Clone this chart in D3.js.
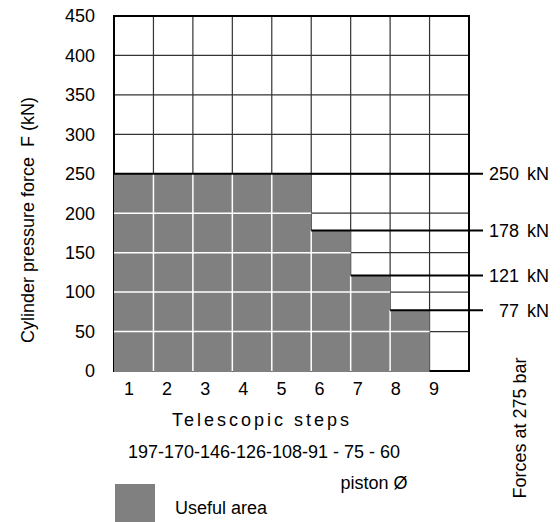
<!DOCTYPE html>
<html><head><meta charset="utf-8">
<script src="https://cdn.jsdelivr.net/npm/d3@7"></script>
<style>
html,body{margin:0;padding:0;background:#fff;}
text{font-family:"Liberation Sans",Arial,sans-serif;font-size:18px;fill:#000;white-space:pre;}
</style></head>
<body>
<script>
// ---- data ----
const steps = [1, 2, 3, 4, 5, 6, 7, 8, 9];
const usefulForce = [250, 250, 250, 250, 250, 178, 121, 77, 0]; // kN, useful area per step
const forceLevels = [250, 178, 121, 77];       // kN labels on the right
const forceFromStep = [1, 6, 7, 8];            // step where each force line starts
const yTicks = [0, 50, 100, 150, 200, 250, 300, 350, 400, 450];
const pistonDiameters = "197-170-146-126-108-91 - 75 - 60";

const W = 560, H = 522;
const svg = d3.select("body").append("svg").attr("width", W).attr("height", H);

const x = d3.scaleBand().domain(steps).range([114, 469]).padding(0);
const y = d3.scaleLinear().domain([0, 450]).range([371, 16]);
const labelX = d3.scaleLinear().domain([1, 9]).range([129, 434]);
const bw = x.bandwidth();

// background grid (dark lines)
const grid = svg.append("g");
grid.selectAll("line.v").data(steps.slice(1)).enter().append("line")
  .attr("x1", d => x(d)).attr("x2", d => x(d))
  .attr("y1", y(450)).attr("y2", y(0))
  .attr("stroke", "#333").attr("stroke-width", 1.2);
grid.selectAll("line.h").data(yTicks.slice(1, -1)).enter().append("line")
  .attr("x1", x(1)).attr("x2", x(9) + bw)
  .attr("y1", d => y(d)).attr("y2", d => y(d))
  .attr("stroke", "#333").attr("stroke-width", 1.2);
// border
svg.append("rect").attr("x", x(1)).attr("y", y(450))
  .attr("width", x(9) + bw - x(1)).attr("height", y(0) - y(450))
  .attr("fill", "none").attr("stroke", "#000").attr("stroke-width", 2);

// useful area bars
const bars = steps.map((s, i) => ({ step: s, f: usefulForce[i] })).filter(d => d.f > 0);
svg.append("g").selectAll("rect").data(bars).enter().append("rect")
  .attr("x", d => x(d.step)).attr("width", bw)
  .attr("y", d => y(d.f)).attr("height", d => y(0) - y(d.f) + 1)
  .attr("fill", "#808080");

// white grid inside bars
const wg = svg.append("g");
bars.forEach((d, i) => {
  if (i > 0) {
    const prev = bars[i - 1];
    wg.append("line").attr("x1", x(d.step)).attr("x2", x(d.step))
      .attr("y1", y(Math.min(d.f, prev.f))).attr("y2", y(0))
      .attr("stroke", "#fff").attr("stroke-width", 1.5);
  }
  yTicks.filter(t => t > 0 && t < d.f).forEach(t => {
    wg.append("line").attr("x1", x(d.step)).attr("x2", x(d.step) + bw)
      .attr("y1", y(t)).attr("y2", y(t))
      .attr("stroke", "#fff").attr("stroke-width", 1.5);
  });
});

// force lines + labels
const fl = forceLevels.map((f, i) => ({ f, s: forceFromStep[i] }));
svg.append("g").selectAll("line").data(fl).enter().append("line")
  .attr("x1", d => x(d.s)).attr("x2", 483)
  .attr("y1", d => y(d.f)).attr("y2", d => y(d.f))
  .attr("stroke", "#000").attr("stroke-width", 2);
svg.append("g").selectAll("text").data(fl).enter().append("text")
  .attr("x", 549).attr("y", d => y(d.f)).attr("dy", "0.35em")
  .attr("text-anchor", "end").style("word-spacing", "3px").text(d => d.f + " kN");

// y tick labels
svg.append("g").selectAll("text").data(yTicks).enter().append("text")
  .attr("x", 95).attr("y", d => y(d)).attr("dy", "0.35em")
  .attr("text-anchor", "end").text(d => d);

// x tick labels
svg.append("g").selectAll("text").data(steps).enter().append("text")
  .attr("x", d => labelX(d)).attr("y", 395)
  .attr("text-anchor", "middle").text(d => d);

// titles
svg.append("text").attr("transform", "translate(34,220) rotate(-90)")
  .attr("text-anchor", "middle").text("Cylinder pressure force  F (kN)");
svg.append("text").attr("x", 262).attr("y", 426).attr("text-anchor", "middle")
  .style("letter-spacing", "3px").text("Telescopic steps");
svg.append("text").attr("x", 264).attr("y", 458).attr("text-anchor", "middle")
  .text(pistonDiameters);
svg.append("text").attr("x", 374).attr("y", 489).attr("text-anchor", "middle")
  .text("piston Ø");
svg.append("text").attr("transform", "translate(526,428) rotate(-90)")
  .attr("text-anchor", "middle").text("Forces at 275 bar");

// legend
svg.append("rect").attr("x", 115).attr("y", 484).attr("width", 40).attr("height", 40)
  .attr("fill", "#808080");
svg.append("text").attr("x", 175).attr("y", 514).text("Useful area");
</script>
</body></html>
